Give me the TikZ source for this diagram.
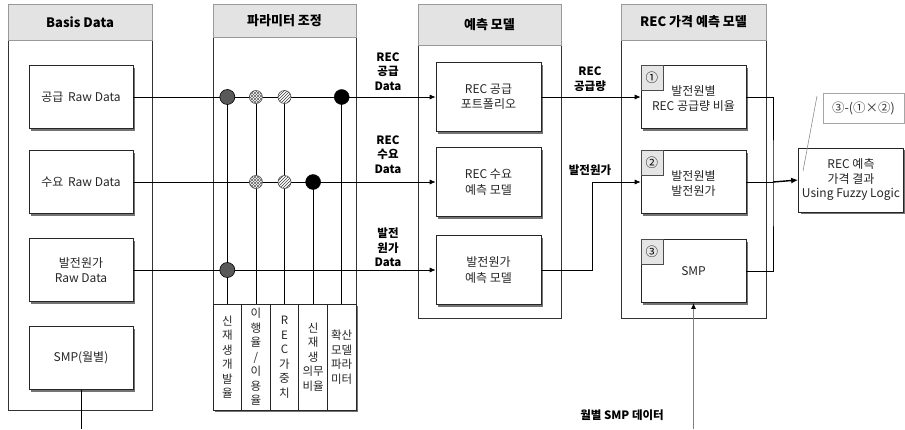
\documentclass[tikz,border=0pt]{standalone}
\usepackage{fontspec}
\setmainfont{Noto Sans CJK KR}
\usetikzlibrary{arrows.meta,shadows,patterns}
\begin{document}
\begin{tikzpicture}[x=1pt,y=-1pt,
  colline/.style={draw=black!80, line width=0.8pt},
  hdr/.style={draw=black!40, fill=black!11, line width=0.6pt},
  hdrtxt/.style={font=\bfseries\fontsize{13}{15}\selectfont},
  shad/.style={drop shadow={shadow xshift=2pt, shadow yshift=-2pt, opacity=1, fill=black!55}},
  box/.style={shad, draw=black!85, fill=white, line width=0.7pt, inner sep=0pt, align=center,
    font=\fontsize{12}{15.5}\selectfont, text=black!85},
  bbox/.style={box, minimum width=104pt, minimum height=63pt},
  pbox/.style={box, minimum width=105pt, minimum height=69pt},
  rbox/.style={box, minimum width=105pt, minimum height=63pt},
  labbox/.style={box, minimum width=28.6pt, minimum height=106pt, font=\fontsize{11.5}{14.5}\selectfont},
  tagbox/.style={draw=black!70, fill=black!10, line width=0.6pt, minimum width=22pt, minimum height=25pt, inner sep=0pt, anchor=north west, font=\fontsize{12.5}{14}\selectfont},
  lbl/.style={align=center, font=\bfseries\fontsize{11.5}{14.5}\selectfont},
  arr/.style={line width=0.7pt, -{Latex[length=6pt,width=5pt]}},
  ln/.style={line width=0.7pt},
  dkdot/.style={circle, draw=black, fill=black!65, minimum size=15pt, inner sep=0pt, line width=0.6pt},
  bkdot/.style={circle, draw=black, fill=black, minimum size=15pt, inner sep=0pt},
  xdot/.style={circle, draw=black!70, fill=white, minimum size=13pt, inner sep=0pt, line width=0.6pt,
    postaction={pattern=north east lines, pattern color=black!60},
    postaction={pattern=north west lines, pattern color=black!60}},
  hdot/.style={circle, draw=black!70, fill=white, minimum size=13pt, inner sep=0pt, line width=0.6pt,
    postaction={pattern=north east lines, pattern color=black!75}}
]
\useasboundingbox (0,0) rectangle (905,429);

% ---------------- column frames ----------------
\draw[colline] (8,40) -- (8,410) -- (152,410) -- (152,40);
\draw[hdr] (8,4) rectangle (152,40);
\node[hdrtxt] (h1) at (80,22) {Basis Data};

\draw[colline] (213,37) -- (213,304);
\draw[colline] (356,37) -- (356,304);
\draw[hdr] (213,4) rectangle (356,37);
\node[hdrtxt] (h2) at (284.5,20.5) {파라미터 조정};

\draw[colline] (418,45) -- (418,318) -- (561,318) -- (561,45);
\draw[hdr] (418,4) rectangle (561,45);
\node[hdrtxt] (h3) at (489.5,24.5) {예측 모델};

\draw[colline] (621,40) -- (621,318) -- (766,318) -- (766,40);
\draw[hdr] (621,4) rectangle (766,40);
\node[hdrtxt] (h4) at (693.5,22) {REC 가격 예측 모델};

% ---------------- Basis Data boxes ----------------
\node[bbox] (s1) at (81,97) {공급\, Raw Data};
\node[bbox] (s2) at (81,182) {수요\, Raw Data};
\node[bbox] (s3) at (81,270) {발전원가\\Raw Data};
\node[bbox] (s4) at (81,358) {SMP(월별)};

% ---------------- parameter label boxes ----------------
\node[labbox] (l1) at (227.3,357) {신\\재\\생\\개\\발\\율};
\node[labbox] (l2) at (255.9,357) {이\\행\\율\\/\\이\\용\\율};
\node[labbox] (l3) at (284.5,357) {R\\E\\C\\가\\중\\치};
\node[labbox] (l4) at (313.1,357) {신\\재\\생\\의무\\비율};
\node[labbox] (l5) at (341.7,357) {확산\\모델\\파라\\미터};

% ---------------- prediction model boxes ----------------
\node[pbox] (p1) at (488.5,97) {REC 공급\\포트폴리오};
\node[pbox] (p2) at (488.5,182) {REC 수요\\예측 모델};
\node[pbox] (p3) at (488.5,270) {발전원가\\예측 모델};

% ---------------- REC price model boxes ----------------
\node[rbox] (r1) at (693.5,97) {\\[-3pt]발전원별\\REC 공급량 비율};
\node[rbox] (r2) at (693.5,182) {\\[-3pt]발전원별\\발전원가};
\node[rbox] (r3) at (693.5,271) {SMP};
\node[tagbox] (n1) at (r1.north west) {①};
\node[tagbox] (n2) at (r2.north west) {②};
\node[tagbox] (n3) at (r3.north west) {③};

% ---------------- result + callout ----------------
\node[box, minimum width=105pt, minimum height=64pt, font=\fontsize{12}{14.5}\selectfont] (res) at (851,180) {REC 예측\\가격 결과\\Using Fuzzy Logic};
\node[draw=black!35, line width=0.6pt, minimum width=81pt, minimum height=30pt, inner sep=0pt, font=\fontsize{12.5}{14}\selectfont, text=black!80] (co) at (863.5,108) {③-(①×②)};
\coordinate (la) at (817,96);
\coordinate (lb) at (803,171);
\draw[black!45, line width=0.6pt] (la) -- (lb);

% ---------------- circle positions ----------------
\coordinate (a1) at (227.3,97);
\coordinate (a3) at (227.3,270);
\coordinate (b1) at (255.9,97);
\coordinate (b2) at (255.9,182);
\coordinate (c1) at (284.5,97);
\coordinate (c2) at (284.5,182);
\coordinate (d2) at (313.1,182);
\coordinate (e1) at (341.7,97);

% ---------------- connectors ----------------
\draw[arr] (s1.east) -- (p1.west);
\draw[arr] (s2.east) -- (p2.west);
\draw[arr] (s3.east) -- (p3.west);
\draw[ln] (a1) -- (l1.north);
\draw[ln] (b1) -- (l2.north);
\draw[ln] (c1) -- (l3.north);
\draw[ln] (d2) -- (l4.north);
\draw[ln] (e1) -- (l5.north);

\node[dkdot] (ca1) at (a1) {};
\node[dkdot] (ca3) at (a3) {};
\node[xdot] (cb1) at (b1) {};
\node[xdot] (cb2) at (b2) {};
\node[hdot] (cc1) at (c1) {};
\node[hdot] (cc2) at (c2) {};
\node[bkdot] (cd2) at (d2) {};
\node[bkdot] (ce1) at (e1) {};

\draw[arr] (p1.east) -- (r1.west);
\coordinate (k1) at (592,270);
\draw[arr] (p3.east) -- (k1) |- (r2.west);

\coordinate (jn) at (773,182);
\draw[ln] (r1.east) -| (jn) |- (r3.east);
\draw[ln] (r2.east) -- (jn);
\draw[line width=1.4pt, -{Latex[length=7pt,width=6pt]}] (jn) -- (res.west);

\coordinate (sdown) at (81,429);
\draw[ln] (s4.south) -- (sdown);
\coordinate (smpsrc) at (693.5,429);
\draw[draw=black!50, line width=1pt, -{Latex[length=6pt,width=5pt,color=black]}] (smpsrc) -- (r3.south);

% ---------------- labels ----------------
\node[lbl] (t1) at (388,71.5) {REC\\공급\\Data};
\node[lbl] (t2) at (388,154.5) {REC\\수요\\Data};
\node[lbl] (t3) at (388,247.5) {발전\\원가\\Data};
\node[lbl] (t4) at (590,79) {REC\\공급량};
\node[lbl] (t5) at (590,170) {발전원가};
\node[lbl] (t6) at (622,415) {월별 SMP 데이터};
\end{tikzpicture}
\end{document}
